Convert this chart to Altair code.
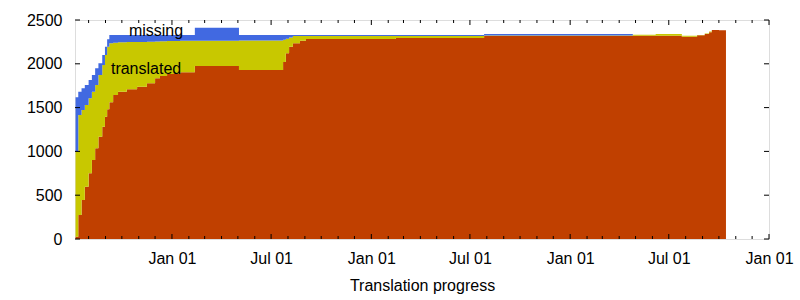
import altair as alt
import pandas as pd

# ---- data (step series, stacked) ----
dates = [
    "2007-07-08", "2007-07-13", "2007-07-19", "2007-07-25", "2007-08-01",
    "2007-08-07", "2007-08-13", "2007-08-19", "2007-08-26", "2007-08-31",
    "2007-09-04", "2007-09-08", "2007-09-15", "2007-09-24", "2007-10-10",
    "2007-10-29", "2007-11-16", "2007-12-01", "2007-12-10", "2007-12-23",
    "2008-01-16", "2008-02-12", "2008-05-03", "2008-07-23", "2008-07-28",
    "2008-08-03", "2008-08-10", "2008-08-23", "2008-09-03", "2009-02-15",
    "2009-07-27", "2010-04-26", "2010-06-07", "2010-07-25", "2010-08-22",
    "2010-09-05", "2010-09-13", "2010-09-18", "2010-10-01", "2010-10-14",
]
# cumulative tops
top_uptodate = [
    26, 274, 445, 597, 750, 902, 1035, 1168, 1282, 1396,
    1480, 1560, 1644, 1682, 1709, 1739, 1777, 1835, 1861, 1884,
    1903, 1975, 1929, 2020, 2120, 2195, 2234, 2264, 2283, 2295,
    2317, 2321, 2321, 2310, 2325, 2340, 2359, 2386, 2383, 2383,
]
top_translated = [
    997, 1416, 1473, 1530, 1606, 1682, 1758, 1872, 1986, 2101,
    2195, 2234, 2241, 2245, 2249, 2249, 2252, 2255, 2257, 2260,
    2262, 2264, 2266, 2275, 2285, 2300, 2317, 2317, 2317, 2317,
    2322, 2333, 2340, 2321, 2330, 2345, 2370, 2386, 2383, 2383,
]
top_missing = [
    1617, 1682, 1720, 1758, 1815, 1872, 1949, 2006, 2101, 2195,
    2280, 2329, 2329, 2329, 2329, 2329, 2329, 2329, 2329, 2329,
    2329, 2412, 2329, 2329, 2329, 2329, 2329, 2329, 2329, 2329,
    2340, 2333, 2340, 2321, 2330, 2345, 2370, 2386, 2383, 2383,
]

series_names = ["uptodate", "translated", "missing"]
series_colors = ["#c04000", "#c8c800", "#4169e1"]

labels_text = ["missing", "translated"]
labels_date = ["2007-10-14", "2007-09-11"]
labels_value = [2317, 1884]

y_ticks = [0, 500, 1000, 1500, 2000, 2500]
x_major = ["2008-01-01", "2008-07-01", "2009-01-01", "2009-07-01",
           "2010-01-01", "2010-07-01", "2011-01-01"]

# ---- build tables ----
rows = []
for i, d in enumerate(dates):
    a = top_uptodate[i]
    b = top_translated[i] - top_uptodate[i]
    c = top_missing[i] - top_translated[i]
    for k, (name, v) in enumerate(zip(series_names, [a, b, c])):
        rows.append({"date": d, "series": name, "value": v, "ord": k})
df = pd.DataFrame(rows)

lab_df = pd.DataFrame({"date": labels_date, "value": labels_value, "label": labels_text})

months = [d.strftime("%Y-%m-%d") for d in pd.date_range("2007-08-01", "2010-12-01", freq="MS")]
minor_df = pd.DataFrame({"date": [m for m in months if m not in x_major]})
major_df = pd.DataFrame({"date": x_major})
ytick_df = pd.DataFrame({"value": y_ticks})

W, H = 694, 219
FONT = "Liberation Sans"

xscale = alt.Scale(type="utc",
                   domain=[alt.DateTime(year=2007, month=7, date=7, utc=True),
                           alt.DateTime(year=2011, month=1, date=1, utc=True)])
xaxis = alt.Axis(values=[alt.DateTime(year=int(s[:4]), month=int(s[5:7]), date=1, utc=True) for s in x_major],
                 labelExpr="utcFormat(datum.value, '%b %d')", grid=False, domain=False, ticks=False,
                 labelFlush=False, labelOverlap=False, labelBound=False,
                 labelPadding=11, labelFontSize=16, labelColor="black", labelFont=FONT,
                 title="Translation progress", titleFontSize=16, titleFont=FONT,
                 titleFontWeight="normal", titleColor="black",
                 titleBaseline="alphabetic", titleY=51)
xenc = alt.X("date:T", scale=xscale, axis=xaxis)

yscale = alt.Scale(domain=[0, 2500], nice=False, zero=True)
yaxis = alt.Axis(values=y_ticks, format="d", grid=False, domain=False, ticks=False, labelPadding=13,
                 labelFlush=False, labelOverlap=False,
                 labelFontSize=16, labelColor="black", labelFont=FONT, title=None)

area = alt.Chart(df).mark_area(interpolate="step-after").encode(
    x=xenc,
    y=alt.Y("value:Q", stack="zero", scale=yscale, axis=yaxis),
    color=alt.Color("series:N", scale=alt.Scale(domain=series_names, range=series_colors), legend=None),
    order=alt.Order("ord:Q"),
)

labels = alt.Chart(lab_df).mark_text(align="left", baseline="alphabetic", fontSize=16,
                                     font=FONT, color="black").encode(
    x=xenc, y=alt.Y("value:Q", scale=yscale, axis=yaxis), text="label:N")

tick_color = "black"
maj_bot = alt.Chart(major_df).mark_rule(color=tick_color).encode(x=xenc, y=alt.value(H), y2=alt.value(H - 5))
maj_top = alt.Chart(major_df).mark_rule(color=tick_color).encode(x=xenc, y=alt.value(0), y2=alt.value(5))
min_bot = alt.Chart(minor_df).mark_rule(color=tick_color).encode(x=xenc, y=alt.value(H), y2=alt.value(H - 3))
min_top = alt.Chart(minor_df).mark_rule(color=tick_color).encode(x=xenc, y=alt.value(0), y2=alt.value(3))
y_left = alt.Chart(ytick_df).mark_rule(color=tick_color).encode(
    y=alt.Y("value:Q", scale=yscale, axis=yaxis), x=alt.value(0), x2=alt.value(5))
y_right = alt.Chart(ytick_df).mark_rule(color=tick_color).encode(
    y=alt.Y("value:Q", scale=yscale, axis=yaxis), x=alt.value(W - 5), x2=alt.value(W))

chart = alt.layer(area, labels, maj_bot, maj_top, min_bot, min_top, y_left, y_right).properties(
    width=W, height=H,
    padding={"left": 75, "top": 20, "right": 31, "bottom": 61},
    autosize=alt.AutoSizeParams(type="none"),
    background="white",
).configure_view(stroke="black", strokeWidth=1).configure(font=FONT)

chart.save("out.html", embed_options={"renderer": "svg", "actions": False})
